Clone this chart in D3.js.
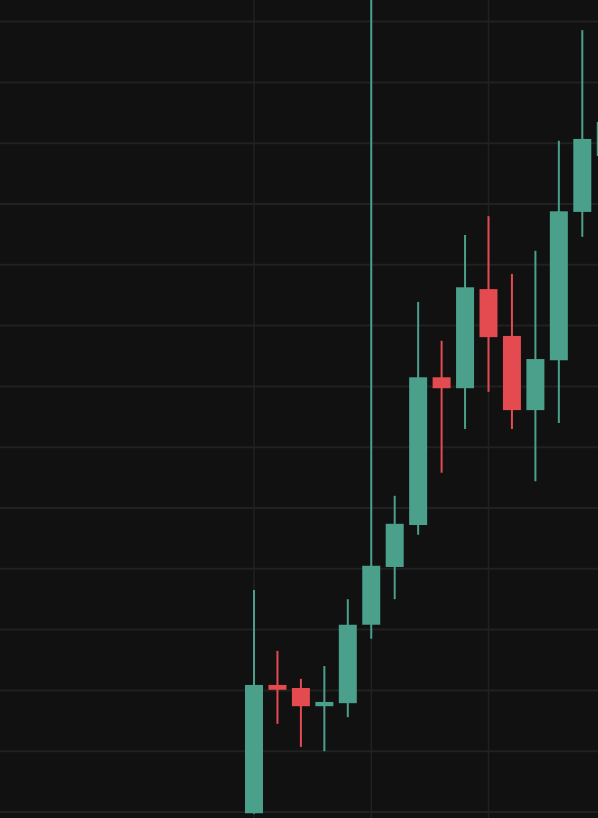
<!DOCTYPE html>
<html><head><meta charset="utf-8">
<script src="https://cdn.jsdelivr.net/npm/d3@7"></script>
<style>html,body{margin:0;padding:0;background:#111111;overflow:hidden}</style>
</head><body>
<svg id="chart" width="598" height="818"></svg>
<script>
const dates = ["D1","D2","D3","D4","D5","D6","D7","D8","D9","D10","D11","D12","D13","D14","D15","D16"];
const open  = [99.98,102.09,102.04,101.74,101.79,103.08,104.03,104.72,107.15,106.97,108.60,107.83,106.61,107.43,109.87,110.79];
const close = [102.09,102.01,101.74,101.81,103.08,104.05,104.74,107.15,106.97,108.63,107.81,106.61,107.45,109.88,111.07,111.35];
const high  = [103.65,102.65,102.19,102.40,103.50,113.70,105.20,108.39,107.75,109.49,109.80,108.85,109.23,111.04,112.86,111.71];
const low   = [99.97,101.45,101.07,101.00,101.56,102.85,103.50,104.56,105.58,106.30,106.91,106.30,105.44,106.40,109.46,110.56];
const priceTicks = [100,101,102,103,104,105,106,107,108,109,110,111,112,113];
const timeGridIdx = [0,5,10];

const W = 598, H = 818;
const svg = d3.select("#chart");
svg.append("rect").attr("width",W).attr("height",H).attr("fill","#111111");

const x = d3.scaleLinear().domain([0, 15]).range([254, 254 + 15*23.45]);
const y = d3.scaleLinear().domain([100, 113]).range([812, 812 - 13*60.8]);

const green = "#4ba08b", red = "#e34b50";

svg.append("g").selectAll("line").data(priceTicks).join("line")
  .attr("x1",0).attr("x2",W)
  .attr("y1",d=>y(d)).attr("y2",d=>y(d))
  .attr("stroke","#212121").attr("stroke-width",2);

svg.append("g").selectAll("line").data(timeGridIdx).join("line")
  .attr("x1",d=>x(d)).attr("x2",d=>x(d))
  .attr("y1",0).attr("y2",H)
  .attr("stroke","#212121").attr("stroke-width",1.5);

const data = dates.map((d,i)=>({d,i,o:open[i],c:close[i],h:high[i],l:low[i]}));
const g = svg.append("g");
const bw = 18;
g.selectAll("line.wick").data(data).join("line").attr("class","wick")
  .attr("x1",d=>x(d.i)).attr("x2",d=>x(d.i))
  .attr("y1",d=>y(d.h)).attr("y2",d=>y(d.l))
  .attr("stroke",d=>d.c>=d.o?green:red).attr("stroke-width",2);
g.selectAll("rect.body").data(data).join("rect").attr("class","body")
  .attr("x",d=>x(d.i)-bw/2).attr("width",bw)
  .attr("y",d=>y(Math.max(d.o,d.c)))
  .attr("height",d=>Math.max(3, Math.abs(y(d.o)-y(d.c))))
  .attr("fill",d=>d.c>=d.o?green:red);
</script>
</body></html>
